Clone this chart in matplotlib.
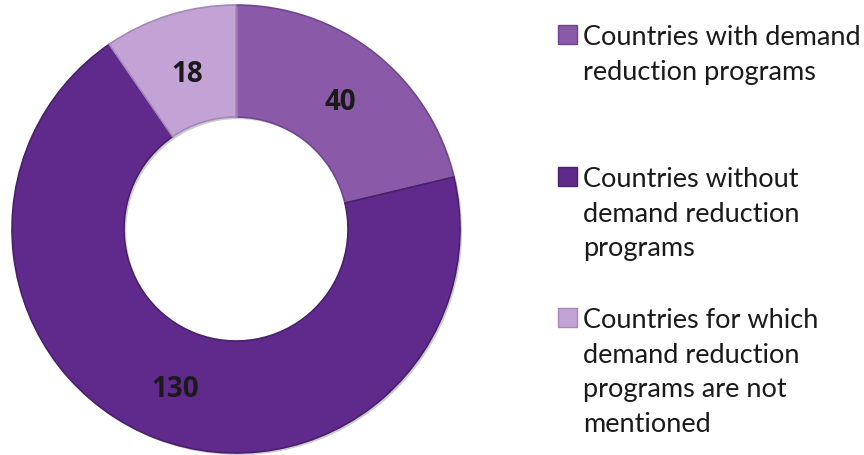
import matplotlib
matplotlib.use("Agg")
import matplotlib.pyplot as plt
from matplotlib.patches import Rectangle
import matplotlib.patheffects as pe

# Demand reduction programme status, number of countries
categories = [
    "Countries with demand\nreduction programs",
    "Countries without\ndemand reduction\nprograms",
    "Countries for which\ndemand reduction\nprograms are not\nmentioned",
]
counts = [40, 130, 18]
colors = ["#8a5aa8", "#5f2a8c", "#c3a3d6"]
edge_colors = ["#6e4590", "#48206c", "#a587ba"]

W, H = 864, 456
fig = plt.figure(figsize=(W / 100, H / 100), dpi=100)
fig.patch.set_facecolor("white")

# donut axes: centre (236, 230) px, outer radius 224 px
cx, cy, r = 236, 230, 224
ax = fig.add_axes([(cx - r) / W, (H - cy - r) / H, 2 * r / W, 2 * r / H])

wedges, _ = ax.pie(
    counts,
    colors=colors,
    startangle=90,
    counterclock=False,
    radius=1.0,
    wedgeprops=dict(width=0.5, linewidth=1.2),
)
ax.set_xlim(-1, 1)
ax.set_ylim(-1, 1)
ax.set_aspect("equal")
ax.axis("off")

for w, ec in zip(wedges, edge_colors):
    w.set_edgecolor(ec)
    w.set_path_effects([
        pe.SimplePatchShadow(offset=(1.5, -1.5), shadow_rgbFace="#9a9a9a", alpha=0.5),
        pe.Normal(),
    ])

# value labels placed along each wedge
label_pos = {40: (0.464, 0.567), 130: (-0.272, -0.714), 18: (-0.219, 0.696)}
for v in counts:
    x, y = label_pos[v]
    ax.text(x, y, str(v), ha="center", va="center", fontsize=20,
            fontweight="bold", color="#1a1a1a", family="Open Sans")

# legend drawn as swatches with wrapped text
legend_rows = [35, 177, 318]
sw = 19
for cat, col, ec, row in zip(categories, colors, edge_colors, legend_rows):
    fig.patches.append(Rectangle((558 / W, (H - row - sw / 2) / H), sw / W, sw / H,
                                 transform=fig.transFigure, facecolor=col,
                                 edgecolor=ec, linewidth=1))
    fig.text(583 / W, (H - row + 10) / H, cat, ha="left", va="top",
             fontsize=19.5, family="Lato", color="#1a1a1a", linespacing=1.48)

fig.savefig("out.png", dpi=100, facecolor="white")
